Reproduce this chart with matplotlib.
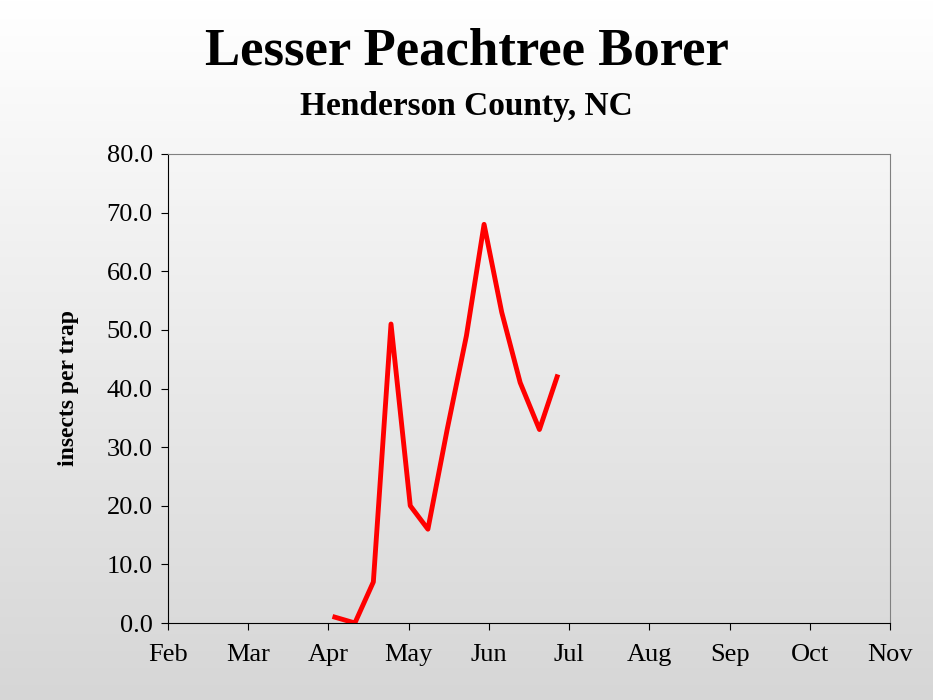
import matplotlib
matplotlib.use("Agg")
import matplotlib.pyplot as plt
import numpy as np

months = ["Feb", "Mar", "Apr", "May", "Jun", "Jul", "Aug", "Sep", "Oct", "Nov"]
# x positions in month units (Feb = 0)
x_pos = [2.08, 2.33, 2.56, 2.78, 3.02, 3.24, 3.48, 3.72, 3.94, 4.16, 4.39, 4.63, 4.85]
insects = [1, 0, 7, 51, 20, 16, 33, 49, 68, 53, 41, 33, 42]
y_ticks = [0, 10, 20, 30, 40, 50, 60, 70, 80]

plt.rcParams['font.family'] = ['Liberation Serif', 'DejaVu Serif']
fig = plt.figure(figsize=(9.33, 7), dpi=100)

bg = fig.add_axes([0, 0, 1, 1], zorder=-10)
grad = np.linspace(1.0, 0.84, 256).reshape(-1, 1)
bg.imshow(np.dstack([grad, grad, grad]), aspect='auto', extent=[0, 1, 0, 1])
bg.axis('off')

ax = fig.add_axes([0.180, 0.110, 0.774, 0.670])
ax.set_facecolor('none')
ax.plot(x_pos, insects, color='#ff0000', lw=3.5, solid_joinstyle='round')
ax.set_xlim(0, 9)
ax.set_ylim(0, 80)
ax.set_xticks(range(len(months)))
ax.set_xticklabels(months, fontsize=19)
ax.set_yticks(y_ticks)
ax.set_yticklabels([f"{v:.1f}" for v in y_ticks], fontsize=19)
ax.tick_params(axis='x', direction='out', length=5, pad=10)
ax.tick_params(axis='y', direction='out', length=5, pad=6)
for s in ['top', 'right']:
    ax.spines[s].set_color('#808080')
ax.set_ylabel('insects per trap', fontsize=17, fontweight='bold', labelpad=20)

fig.text(0.5, 0.926, 'Lesser Peachtree Borer', ha='center', va='center', fontsize=38, fontweight='bold')
fig.text(0.5, 0.848, 'Henderson County, NC', ha='center', va='center', fontsize=24, fontweight='bold')

fig.savefig('out.png', dpi=100)
